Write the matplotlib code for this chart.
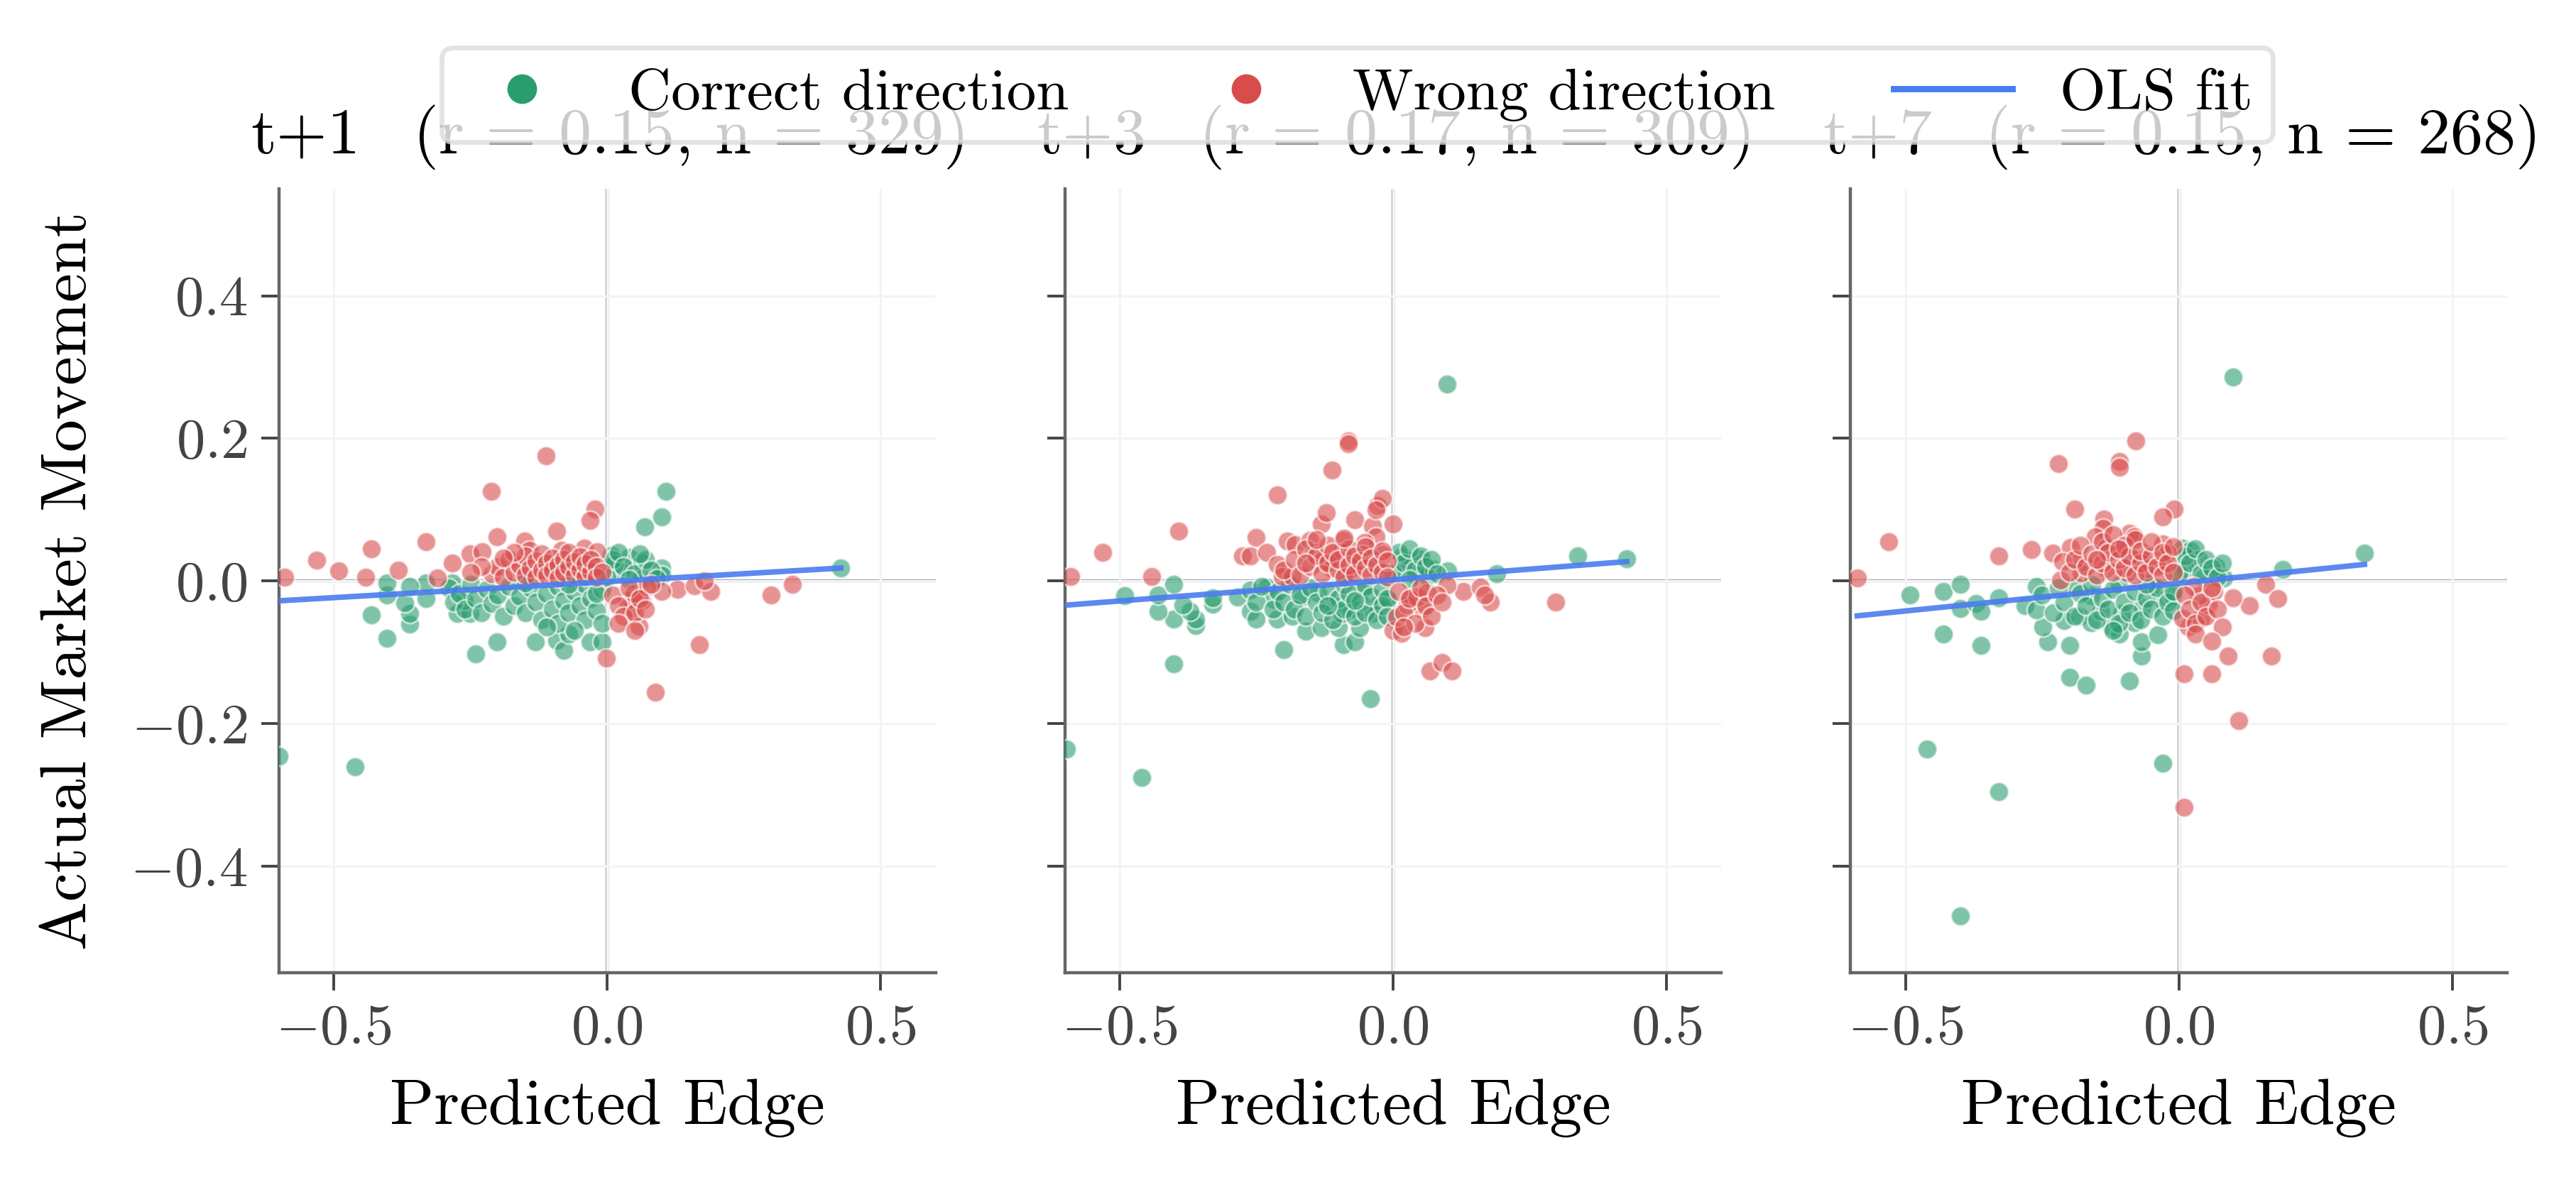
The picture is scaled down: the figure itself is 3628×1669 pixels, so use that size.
import matplotlib
matplotlib.use("Agg")
import matplotlib.pyplot as plt
from matplotlib.lines import Line2D
import numpy as np

# ---------------- data ----------------
horizons = ["t+1", "t+3", "t+7"]
r_values = [0.15, 0.17, 0.15]
n_values = [329, 309, 268]
fit_slope = [0.0448, 0.0596, 0.0778]
fit_intercept = [-0.0011, 0.0016, -0.0033]

# t+1
t1_correct_x = [0.108, 0.099, 0.068, 0.427, -0.600, -0.461, -0.431, -0.402, -0.241, -0.201, -0.131, -0.092,
                -0.080, -0.071, -0.031, -0.010, -0.361, -0.361, -0.370, -0.402, -0.402, -0.331, -0.331, -0.361,
                -0.274, -0.251, -0.261, -0.283,
                0.008, 0.040, 0.063, 0.099, 0.099, 0.026, 0.063, 0.013,
                -0.29, -0.28, -0.27, -0.26, -0.25, -0.24, -0.23, -0.22, -0.21, -0.20, -0.19, -0.18, -0.17, -0.16,
                -0.15, -0.14, -0.13, -0.12, -0.11, -0.10, -0.09, -0.09, -0.08, -0.07, -0.06, -0.05, -0.04, -0.04,
                -0.03, -0.02, -0.01, -0.01, -0.06, -0.11, -0.07, -0.15, -0.02,
                0.00, 0.01, 0.02, 0.03, 0.05, 0.07, 0.08, 0.04, 0.06, 0.09]
t1_correct_y = [0.126, 0.090, 0.076, 0.018, -0.246, -0.261, -0.048, -0.081, -0.102, -0.086, -0.086, -0.084,
                -0.097, -0.075, -0.086, -0.086, -0.061, -0.046, -0.031, -0.020, -0.003, -0.025, -0.003, -0.008,
                -0.046, -0.046, -0.028, -0.003,
                0.036, 0.033, 0.025, 0.018, 0.008, 0.013, 0.003, 0.023,
                -0.010, -0.030, -0.018, -0.040, -0.005, -0.025, -0.045, -0.012, -0.032, -0.020, -0.050, -0.008,
                -0.035, -0.022, -0.045, -0.010, -0.030, -0.055, -0.018, -0.040, -0.008, -0.060, -0.028, -0.045,
                -0.015, -0.035, -0.055, -0.005, -0.025, -0.042, -0.012, -0.060, -0.070, -0.065, -0.005, -0.003,
                -0.018,
                0.005, 0.030, 0.040, 0.020, 0.010, 0.030, 0.015, 0.002, 0.038, 0.003]
t1_wrong_x = [-0.112, -0.212, -0.022, -0.031, -0.092, -0.331, -0.431, -0.201, -0.531, -0.491, -0.589, -0.442,
              -0.382, -0.311, -0.283, -0.251, -0.229, -0.151, -0.142, -0.083, -0.042, -0.019,
              0.058, -0.001, 0.088, 0.169, 0.299, 0.338, 0.128, 0.159, 0.189, 0.177, 0.099, 0.045, 0.036, 0.063,
              0.049, 0.072,
              -0.21, -0.20, -0.19, -0.18, -0.17, -0.16, -0.15, -0.15, -0.14, -0.13, -0.13, -0.12, -0.12, -0.11,
              -0.11, -0.10, -0.10, -0.09, -0.09, -0.08, -0.08, -0.07, -0.07, -0.06, -0.06, -0.05, -0.05, -0.04,
              -0.04, -0.03, -0.03, -0.02, -0.02, -0.01, -0.17, -0.19, -0.23, -0.25,
              0.01, 0.02, 0.03, 0.04, 0.05, 0.06, 0.07, 0.08, 0.02, 0.05]
t1_wrong_y = [0.175, 0.126, 0.101, 0.085, 0.070, 0.055, 0.045, 0.062, 0.029, 0.014, 0.005, 0.005,
              0.015, 0.004, 0.025, 0.038, 0.041, 0.056, 0.043, 0.043, 0.046, 0.041,
              -0.064, -0.108, -0.156, -0.090, -0.020, -0.005, -0.012, -0.007, -0.015, 0.000, -0.015, -0.038,
              -0.028, -0.028, -0.018, -0.008,
              0.010, 0.020, 0.005, 0.030, 0.012, 0.022, 0.035, 0.008, 0.018, 0.028, 0.005, 0.015, 0.038, 0.025,
              0.008, 0.032, 0.015, 0.022, 0.004, 0.030, 0.012, 0.020, 0.040, 0.008, 0.027, 0.016, 0.034, 0.006,
              0.024, 0.013, 0.030, 0.020, 0.005, 0.012, 0.040, 0.032, 0.020, 0.012,
              -0.020, -0.035, -0.050, -0.010, -0.045, -0.025, -0.040, -0.005, -0.060, -0.070]

# t+3
t3_correct_x = [0.098, 0.338, 0.427, 0.190, 0.100, -0.597, -0.460, -0.041, -0.401, -0.200, -0.091, -0.070,
                -0.160, -0.131, -0.100, -0.061, -0.212, -0.184, -0.401, -0.430, -0.361, -0.361, -0.371, -0.384,
                -0.430, -0.490, -0.401, -0.330, -0.330, -0.284, -0.261, -0.261, -0.250, -0.231, -0.220, -0.166,
                -0.111, -0.075, -0.029, -0.011, -0.038, -0.093, -0.138, -0.056,
                0.016, 0.030, 0.048, 0.071, 0.012, 0.039, 0.062,
                -0.25, -0.24, -0.22, -0.21, -0.20, -0.19, -0.18, -0.17, -0.16, -0.15, -0.14, -0.13, -0.12, -0.11,
                -0.10, -0.09, -0.09, -0.08, -0.07, -0.06, -0.05, -0.05, -0.04, -0.03, -0.02, -0.02, -0.01, -0.01,
                -0.12, -0.07,
                0.00, 0.01, 0.02, 0.03, 0.04, 0.05, 0.06, 0.07, 0.08, 0.03]
t3_correct_y = [0.276, 0.035, 0.031, 0.010, 0.014, -0.236, -0.276, -0.165, -0.116, -0.096, -0.090, -0.086,
                -0.071, -0.066, -0.066, -0.066, -0.054, -0.050, -0.054, -0.043, -0.063, -0.054, -0.043, -0.034,
                -0.020, -0.021, -0.005, -0.033, -0.024, -0.023, -0.013, -0.043, -0.054, -0.009, -0.026, -0.023,
                -0.034, -0.040, -0.034, -0.029, -0.046, -0.046, -0.017, -0.011,
                0.034, 0.029, 0.031, 0.017, 0.011, 0.009, 0.006,
                -0.030, -0.008, -0.040, -0.015, -0.030, -0.005, -0.040, -0.020, -0.050, -0.010, -0.030, -0.045,
                -0.015, -0.055, -0.025, -0.005, -0.040, -0.018, -0.050, -0.030, -0.008, -0.045, -0.022, -0.055,
                -0.012, -0.035, -0.025, -0.050, -0.035, -0.028,
                0.010, 0.040, 0.025, 0.045, 0.015, 0.035, 0.020, 0.030, 0.010, 0.002]
t3_wrong_x = [-0.082, -0.082, -0.111, -0.211, -0.392, -0.531, -0.589, -0.441, -0.251, -0.275, -0.261, -0.231,
              -0.193, -0.179, -0.152, -0.131, -0.122, -0.070, -0.038, -0.029, -0.020, -0.031, 0.000, -0.031,
              -0.052, -0.091, -0.211, -0.202, -0.184, -0.143, -0.129, -0.093, -0.056, -0.020, -0.111, -0.075,
              0.068, 0.089, 0.108, 0.000, 0.016, 0.059, 0.297, 0.128, 0.160, 0.178, 0.167, 0.098, 0.035, 0.053,
              0.007, 0.026, 0.044, 0.062,
              -0.20, -0.18, -0.17, -0.16, -0.15, -0.14, -0.13, -0.12, -0.12, -0.11, -0.10, -0.10, -0.09, -0.08,
              -0.08, -0.07, -0.07, -0.06, -0.05, -0.05, -0.04, -0.04, -0.03, -0.02, -0.02, -0.01, -0.01, -0.14,
              -0.09, -0.16,
              0.01, 0.02, 0.03, 0.04, 0.05, 0.06, 0.07, 0.08, 0.09, 0.02]
t3_wrong_y = [0.196, 0.192, 0.156, 0.121, 0.070, 0.040, 0.006, 0.006, 0.061, 0.035, 0.035, 0.040,
              0.056, 0.051, 0.057, 0.080, 0.096, 0.086, 0.077, 0.106, 0.116, 0.100, 0.080, 0.062,
              0.054, 0.057, 0.023, 0.006, 0.006, 0.040, 0.029, 0.040, 0.037, 0.037, 0.017, 0.017,
              -0.126, -0.114, -0.126, -0.070, -0.074, -0.066, -0.030, -0.015, -0.009, -0.030, -0.020, -0.006,
              -0.023, -0.040, -0.051, -0.034, -0.023, -0.017,
              0.015, 0.030, 0.008, 0.045, 0.020, 0.035, 0.010, 0.050, 0.025, 0.040, 0.015, 0.030, 0.005, 0.045,
              0.022, 0.035, 0.010, 0.028, 0.018, 0.048, 0.008, 0.032, 0.022, 0.042, 0.012, 0.028, 0.005, 0.058,
              0.060, 0.025,
              -0.015, -0.045, -0.025, -0.060, -0.010, -0.035, -0.050, -0.020, -0.030, -0.065]

# t+7
t7_correct_x = [0.099, 0.339, 0.190, -0.460, -0.329, -0.399, -0.030, -0.200, -0.170, -0.091, -0.069, -0.069,
                -0.039, -0.200, -0.240, -0.249, -0.430, -0.362, -0.491, -0.430, -0.399, -0.399, -0.371, -0.362,
                -0.329, -0.282, -0.261, -0.261, -0.210, -0.182, -0.161, -0.123, -0.109, -0.081, -0.142, -0.105,
                -0.067, -0.030, -0.011, -0.161, -0.189, -0.109, -0.049,
                0.007, 0.021, 0.036, 0.012, 0.068, 0.064, 0.082, 0.045,
                -0.25, -0.23, -0.22, -0.21, -0.19, -0.18, -0.17, -0.16, -0.15, -0.14, -0.13, -0.12, -0.11, -0.10,
                -0.09, -0.08, -0.07, -0.06, -0.05, -0.04, -0.03, -0.02, -0.01, -0.01, -0.06, -0.12,
                0.00, 0.01, 0.02, 0.03, 0.04, 0.05, 0.06, 0.07, 0.08]
t7_correct_y = [0.286, 0.039, 0.016, -0.236, -0.296, -0.470, -0.256, -0.135, -0.146, -0.140, -0.105, -0.086,
                -0.076, -0.091, -0.086, -0.065, -0.075, -0.091, -0.020, -0.015, -0.005, -0.039, -0.032, -0.043,
                -0.024, -0.035, -0.008, -0.041, -0.056, -0.050, -0.059, -0.065, -0.075, -0.059, -0.043, -0.046,
                -0.037, -0.027, -0.021, -0.021, -0.008, -0.005, -0.008,
                0.046, 0.043, 0.030, 0.017, 0.020, 0.011, 0.004, 0.004,
                -0.020, -0.045, -0.010, -0.030, -0.050, -0.018, -0.035, -0.005, -0.055, -0.025, -0.040, -0.012,
                -0.060, -0.030, -0.045, -0.015, -0.055, -0.025, -0.040, -0.010, -0.050, -0.030, -0.042, -0.015,
                -0.005, -0.070,
                0.010, 0.035, 0.025, 0.045, 0.010, 0.030, 0.018, 0.005, 0.025]
t7_wrong_x = [-0.079, -0.221, -0.109, -0.109, -0.191, -0.009, -0.030, -0.137, -0.139, -0.153, -0.091, -0.081,
              -0.530, -0.329, -0.270, -0.231, -0.198, -0.181, -0.179, -0.212, -0.217, -0.588, -0.133, -0.105,
              -0.067, -0.030, -0.021, -0.133, -0.095, -0.058, -0.030, -0.086,
              0.159, 0.180, 0.129, 0.099, 0.090, 0.169, 0.009, 0.060, 0.109, 0.009, 0.017, 0.040, 0.007, 0.054,
              0.036, 0.026, 0.064,
              -0.20, -0.19, -0.18, -0.17, -0.16, -0.15, -0.14, -0.14, -0.13, -0.12, -0.12, -0.11, -0.10, -0.10,
              -0.09, -0.08, -0.08, -0.07, -0.07, -0.06, -0.05, -0.05, -0.04, -0.03, -0.03, -0.02, -0.01, -0.01,
              -0.15, -0.11,
              0.01, 0.02, 0.03, 0.04, 0.05, 0.06, 0.07, 0.08, 0.03, 0.06]
t7_wrong_y = [0.196, 0.165, 0.168, 0.160, 0.101, 0.101, 0.090, 0.087, 0.074, 0.062, 0.067, 0.062,
              0.055, 0.035, 0.044, 0.039, 0.047, 0.027, 0.011, 0.027, 0.001, 0.004, 0.046, 0.043,
              0.030, 0.052, 0.039, 0.017, 0.011, 0.017, 0.024, 0.033,
              -0.005, -0.025, -0.035, -0.024, -0.105, -0.105, -0.130, -0.130, -0.196, -0.318, -0.065, -0.053,
              -0.053, -0.034, -0.021, -0.008, -0.015,
              0.012, 0.030, 0.050, 0.020, 0.038, 0.008, 0.055, 0.025, 0.040, 0.012, 0.065, 0.030, 0.050, 0.018,
              0.035, 0.008, 0.058, 0.025, 0.042, 0.012, 0.035, 0.055, 0.020, 0.008, 0.040, 0.025, 0.012, 0.048,
              0.030, 0.045,
              -0.020, -0.040, -0.060, -0.030, -0.050, -0.010, -0.040, -0.065, -0.075, -0.085]

correct_x = [t1_correct_x, t3_correct_x, t7_correct_x]
correct_y = [t1_correct_y, t3_correct_y, t7_correct_y]
wrong_x = [t1_wrong_x, t3_wrong_x, t7_wrong_x]
wrong_y = [t1_wrong_y, t3_wrong_y, t7_wrong_y]

x_ticks = [-0.5, 0.0, 0.5]
y_ticks = [-0.4, -0.2, 0.0, 0.2, 0.4]

# ---------------- style ----------------
GREEN = "#2a9d6e"
RED = "#d94c4c"
BLUE = "#4a7cf0"
ZERO = "#9ea5b6"

plt.rcParams.update({
    "font.family": "serif",
    "font.serif": ["cmr10"],
    "mathtext.fontset": "cm",
    "axes.formatter.use_mathtext": True,
    "axes.unicode_minus": True,
})

fig, axes = plt.subplots(1, 3, figsize=(9.07, 4.1725), dpi=400, sharey=True)
fig.subplots_adjust(left=0.1083, right=0.9733, bottom=0.179, top=0.8406, wspace=0.197)

for i, ax in enumerate(axes):
    ax.set_xlim(-0.6, 0.6)
    ax.set_ylim(-0.55, 0.55)
    ax.set_xticks(x_ticks)
    ax.set_yticks(y_ticks)
    ax.grid(True, color="#f4f4f6", linewidth=0.6, zorder=0)
    ax.axhline(0, color=ZERO, linewidth=0.8, zorder=1)
    ax.axvline(0, color=ZERO, linewidth=0.8, zorder=1)
    ax.scatter(correct_x[i], correct_y[i], s=24, color=GREEN, alpha=0.6,
               edgecolors="white", linewidths=0.5, zorder=3)
    ax.scatter(wrong_x[i], wrong_y[i], s=24, color=RED, alpha=0.6,
               edgecolors="white", linewidths=0.5, zorder=3)
    allx = np.array(correct_x[i] + wrong_x[i])
    xs = np.array([allx.min(), allx.max()])
    ax.plot(xs, fit_slope[i] * xs + fit_intercept[i], color=BLUE, linewidth=1.4,
            alpha=0.9, zorder=4)
    ax.set_title(horizons[i] + "  $\\,$" + f"(r = {r_values[i]:.2f}, n = {n_values[i]})",
                 fontsize=16.6, pad=9.0)
    ax.set_xlabel("Predicted Edge", fontsize=16.5, labelpad=6)
    for side in ("top", "right"):
        ax.spines[side].set_visible(False)
    for side in ("left", "bottom"):
        ax.spines[side].set_color("#666666")
        ax.spines[side].set_linewidth(0.8)
    ax.tick_params(axis="both", colors="#444444", labelsize=14.5, length=4.5,
                   width=0.7, labelcolor="#444444")

axes[0].set_ylabel("Actual Market Movement", fontsize=16.5, labelpad=8)

handles = [
    Line2D([], [], marker="o", linestyle="none", markersize=6.5, color=GREEN),
    Line2D([], [], marker="o", linestyle="none", markersize=6.5, color=RED),
    Line2D([], [], color=BLUE, linewidth=1.6),
]
labels = ["Correct direction", "Wrong direction", "OLS fit"]
leg = fig.legend(handles, labels, loc="upper center", bbox_to_anchor=(0.527, 0.985),
                 ncol=3, fontsize=15, frameon=True, fancybox=True, framealpha=0.8,
                 edgecolor="#dcdcdc", borderpad=0.35, columnspacing=2.0)
leg.get_frame().set_linewidth(1.2)

fig.savefig("out.png", dpi=400)
